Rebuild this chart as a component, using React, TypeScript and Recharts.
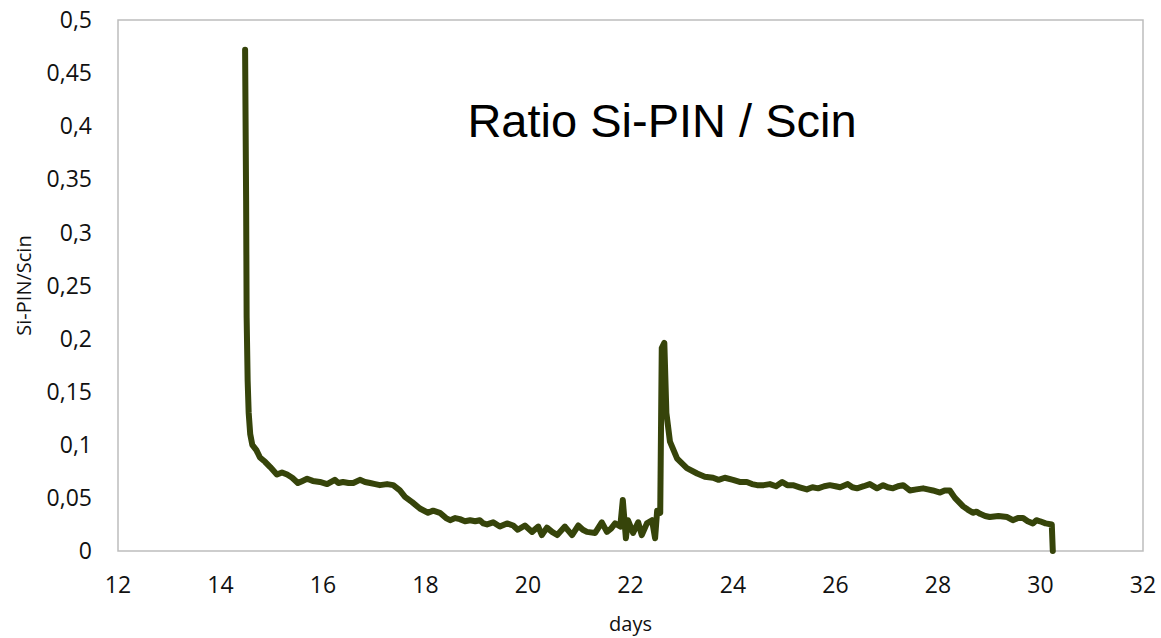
import React from "react";
import { LineChart, Line, XAxis, YAxis, ReferenceArea, Label } from "recharts";

const days: number[] = [
  14.48, 14.5, 14.51, 14.53, 14.55, 14.58, 14.62, 14.7, 14.77, 14.87, 14.97, 15.1, 15.2, 15.3, 15.4, 15.51,
  15.6, 15.69, 15.8, 15.94, 16.08, 16.23, 16.3, 16.39, 16.5, 16.59, 16.72, 16.82, 16.92, 17.02, 17.11, 17.25,
  17.37, 17.5, 17.6, 17.74, 17.89, 18.05, 18.15, 18.28, 18.4, 18.48, 18.58, 18.67, 18.77, 18.87, 18.97, 19.06,
  19.13, 19.2, 19.32, 19.45, 19.59, 19.71, 19.8, 19.94, 20.08, 20.2, 20.27, 20.37, 20.47, 20.57, 20.72, 20.86,
  20.98, 21.07, 21.15, 21.31, 21.44, 21.54, 21.62, 21.7, 21.8, 21.85, 21.91, 21.95, 22.05, 22.15, 22.22, 22.32,
  22.42, 22.48, 22.52, 22.58, 22.61, 22.66, 22.7, 22.77, 22.91, 23.1, 23.3, 23.45, 23.61, 23.72, 23.84, 24.0,
  24.13, 24.27, 24.37, 24.47, 24.6, 24.72, 24.84, 24.96, 25.06, 25.17, 25.3, 25.44, 25.55, 25.66, 25.78, 25.89,
  26.0, 26.09, 26.24, 26.33, 26.42, 26.55, 26.67, 26.81, 26.93, 27.02, 27.12, 27.22, 27.32, 27.45, 27.58, 27.71,
  27.8, 27.9, 28.04, 28.13, 28.23, 28.33, 28.49, 28.58, 28.68, 28.75, 28.82, 28.92, 29.01, 29.18, 29.35, 29.46,
  29.56, 29.66, 29.75, 29.85, 29.92, 29.99, 30.1, 30.22, 30.24,
];

const ratio: number[] = [
  0.472, 0.33, 0.22, 0.16, 0.13, 0.11, 0.1, 0.095, 0.088, 0.084, 0.079, 0.072, 0.074, 0.072, 0.069, 0.064,
  0.066, 0.068, 0.066, 0.065, 0.063, 0.067, 0.064, 0.065, 0.064, 0.064, 0.067, 0.065, 0.064, 0.063, 0.062, 0.063,
  0.062, 0.057, 0.051, 0.046, 0.04, 0.036, 0.038, 0.036, 0.031, 0.029, 0.031, 0.03, 0.028, 0.029, 0.028, 0.029,
  0.026, 0.025, 0.027, 0.023, 0.026, 0.024, 0.02, 0.024, 0.018, 0.023, 0.015, 0.022, 0.018, 0.015, 0.023, 0.015,
  0.024, 0.02, 0.018, 0.017, 0.027, 0.018, 0.021, 0.026, 0.023, 0.048, 0.012, 0.029, 0.017, 0.027, 0.015, 0.026,
  0.029, 0.012, 0.038, 0.036, 0.191, 0.196, 0.13, 0.103, 0.087, 0.078, 0.073, 0.07, 0.069, 0.067, 0.069, 0.067,
  0.065, 0.065, 0.063, 0.062, 0.062, 0.063, 0.061, 0.065, 0.062, 0.062, 0.06, 0.058, 0.06, 0.059, 0.061, 0.062,
  0.061, 0.06, 0.063, 0.06, 0.059, 0.061, 0.063, 0.059, 0.062, 0.06, 0.059, 0.061, 0.062, 0.057, 0.058, 0.059,
  0.058, 0.057, 0.055, 0.057, 0.057, 0.05, 0.042, 0.039, 0.036, 0.037, 0.035, 0.033, 0.032, 0.033, 0.032, 0.029,
  0.031, 0.031, 0.028, 0.026, 0.029, 0.028, 0.026, 0.025, 0.0,
];

const xTicks: number[] = [12, 14, 16, 18, 20, 22, 24, 26, 28, 30, 32];
const yTicks: number[] = [0, 0.05, 0.1, 0.15, 0.2, 0.25, 0.3, 0.35, 0.4, 0.45, 0.5];

const chartTitle = "Ratio Si-PIN / Scin";
const xLabel = "days";
const yLabel = "Si-PIN/Scin";

const data = days.map((d, i) => ({ day: d, ratio: ratio[i] }));

const fmt = (v: number) => String(v).replace(".", ",");

const tickStyle = { fontFamily: "'Open Sans', sans-serif", fontSize: 23, fill: "#111" };

export default function App() {
  return (
    <div style={{ position: "relative", width: 1161, height: 638, background: "#fff" }}>
      <style>{"html, body { margin: 0; padding: 0; overflow: hidden; }"}</style>
      <LineChart width={1161} height={638} data={data} margin={{ top: 20, right: 18, bottom: 0, left: 0 }}>
        <ReferenceArea x1={12} x2={32} y1={0} y2={0.5} fill="none" stroke="#bdbdbd" strokeWidth={1.5} />
        <XAxis
          dataKey="day"
          type="number"
          domain={[12, 32]}
          ticks={xTicks}
          height={87}
          axisLine={false}
          tickLine={false}
          tickSize={0}
          tickMargin={26}
          tick={tickStyle}
          interval={0}
        >
          <Label
            value={xLabel}
            position="insideBottom"
            offset={7}
            style={{ fontFamily: "'Open Sans', sans-serif", fontSize: 20, fill: "#111" }}
          />
        </XAxis>
        <YAxis
          type="number"
          domain={[0, 0.5]}
          ticks={yTicks}
          width={118}
          axisLine={false}
          tickLine={false}
          tickSize={0}
          tickMargin={26}
          tick={tickStyle}
          tickFormatter={fmt}
          interval={0}
        >
          <Label
            value={yLabel}
            angle={-90}
            position="insideLeft"
            offset={24}
            style={{ textAnchor: "middle", fontFamily: "'Open Sans', sans-serif", fontSize: 20, fill: "#111" }}
          />
        </YAxis>
        <Line
          type="linear"
          dataKey="ratio"
          stroke="#36440a"
          strokeWidth={6}
          strokeLinejoin="round"
          strokeLinecap="round"
          dot={false}
          activeDot={false}
          isAnimationActive={false}
        />
      </LineChart>
      <div
        style={{
          position: "absolute",
          left: 362,
          top: 97,
          width: 600,
          textAlign: "center",
          fontFamily: "'Liberation Sans', Arial, sans-serif",
          fontSize: 47,
          lineHeight: "47px",
          color: "#000",
          whiteSpace: "nowrap",
        }}
      >
        {chartTitle}
      </div>
    </div>
  );
}
